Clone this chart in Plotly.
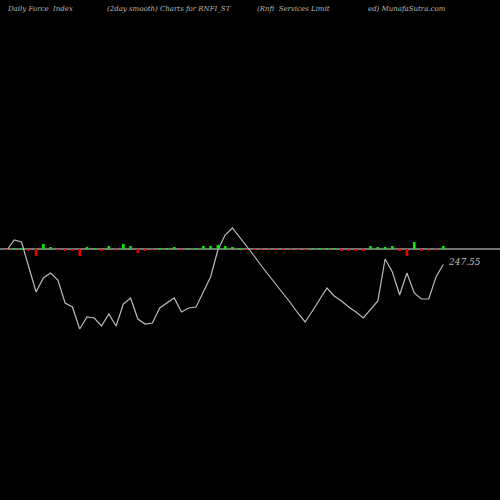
import plotly.graph_objects as go

prices = [249.0,250.0,249.8,247.3,244.8,246.2,246.7,246.0,243.7,243.3,241.1,242.3,242.2,241.4,242.6,241.4,243.6,244.2,242.1,241.6,
          241.7,243.2,243.7,244.2,242.8,243.2,243.3,244.8,246.3,249.0,250.5,251.2,250.3,249.3,248.4,247.4,246.5,245.6,244.6,243.7,
          242.7,241.8,242.9,244.1,245.2,244.4,243.9,243.3,242.8,242.2,243.1,243.9,248.1,246.8,244.5,246.7,244.7,244.1,244.1,246.3,247.55]
force = [-1,1,1,-2,-7,5,2,-1,-2,-2,-7,2,1,-2,3,-1,5,3,-4,-2,-1,1,1,2,-1,1,1,3,3,4,3,2,1,-1,-1,-1,-1,-1,-1,-1,
         -1,-1,1,1,1,1,-2,-2,-2,-2,3,2,2,3,-2,-7,7,-2,-1,-1,3]
idx = list(range(len(prices)))
last_label = "247.55"

fig = go.Figure()
fig.add_trace(go.Bar(x=idx, y=force, yaxis="y2", width=0.35,
                     marker_color=["#00ee00" if v > 0 else "#ee0000" for v in force], marker_line_width=0))
fig.add_trace(go.Scatter(x=idx, y=prices, mode="lines", line=dict(color="#bbbbbb", width=1.2)))
fig.add_annotation(x=idx[-1], y=prices[-1], text="<i>" + last_label + "</i>", showarrow=False, xanchor="left", xshift=3, yshift=3,
                   font=dict(family="DejaVu Serif", size=9, color="#bbbbbb"))
for xpos, t in [(5, "<i>Daily Force  Index</i>"), (105, "<i>(2day smooth) Charts for RNFI_ST</i>"),
                (255, "<i>(Rnfi  Services Limit</i>"), (366, "<i>ed) MunafaSutra.com</i>")]:
    fig.add_annotation(x=xpos/500, y=1-3/500, xref="paper", yref="paper", text=t, showarrow=False, xanchor="left", yanchor="top",
                       font=dict(family="DejaVu Serif", size=7, color="#bbbbbb"))
fig.add_shape(type="line", xref="paper", yref="paper", x0=0, x1=1, y0=251/500, y1=251/500,
              line=dict(color="#999999", width=1.5), layer="below")
fig.update_layout(width=500, height=500, margin=dict(l=0, r=0, t=0, b=0), paper_bgcolor="black", plot_bgcolor="black",
                  showlegend=False,
                  xaxis=dict(range=[-0.96, 67.8], visible=False),
                  yaxis=dict(range=[224, 274], visible=False),
                  yaxis2=dict(range=[-251, 249], overlaying="y", visible=False))
fig.write_html("out.html", config={"displayModeBar": False})
with open("out.html", encoding="utf-8") as f:
    html = f.read()
html = html.replace("<body>", '<body style="margin:0;background:black;overflow:hidden">', 1)
with open("out.html", "w", encoding="utf-8") as f:
    f.write(html)
